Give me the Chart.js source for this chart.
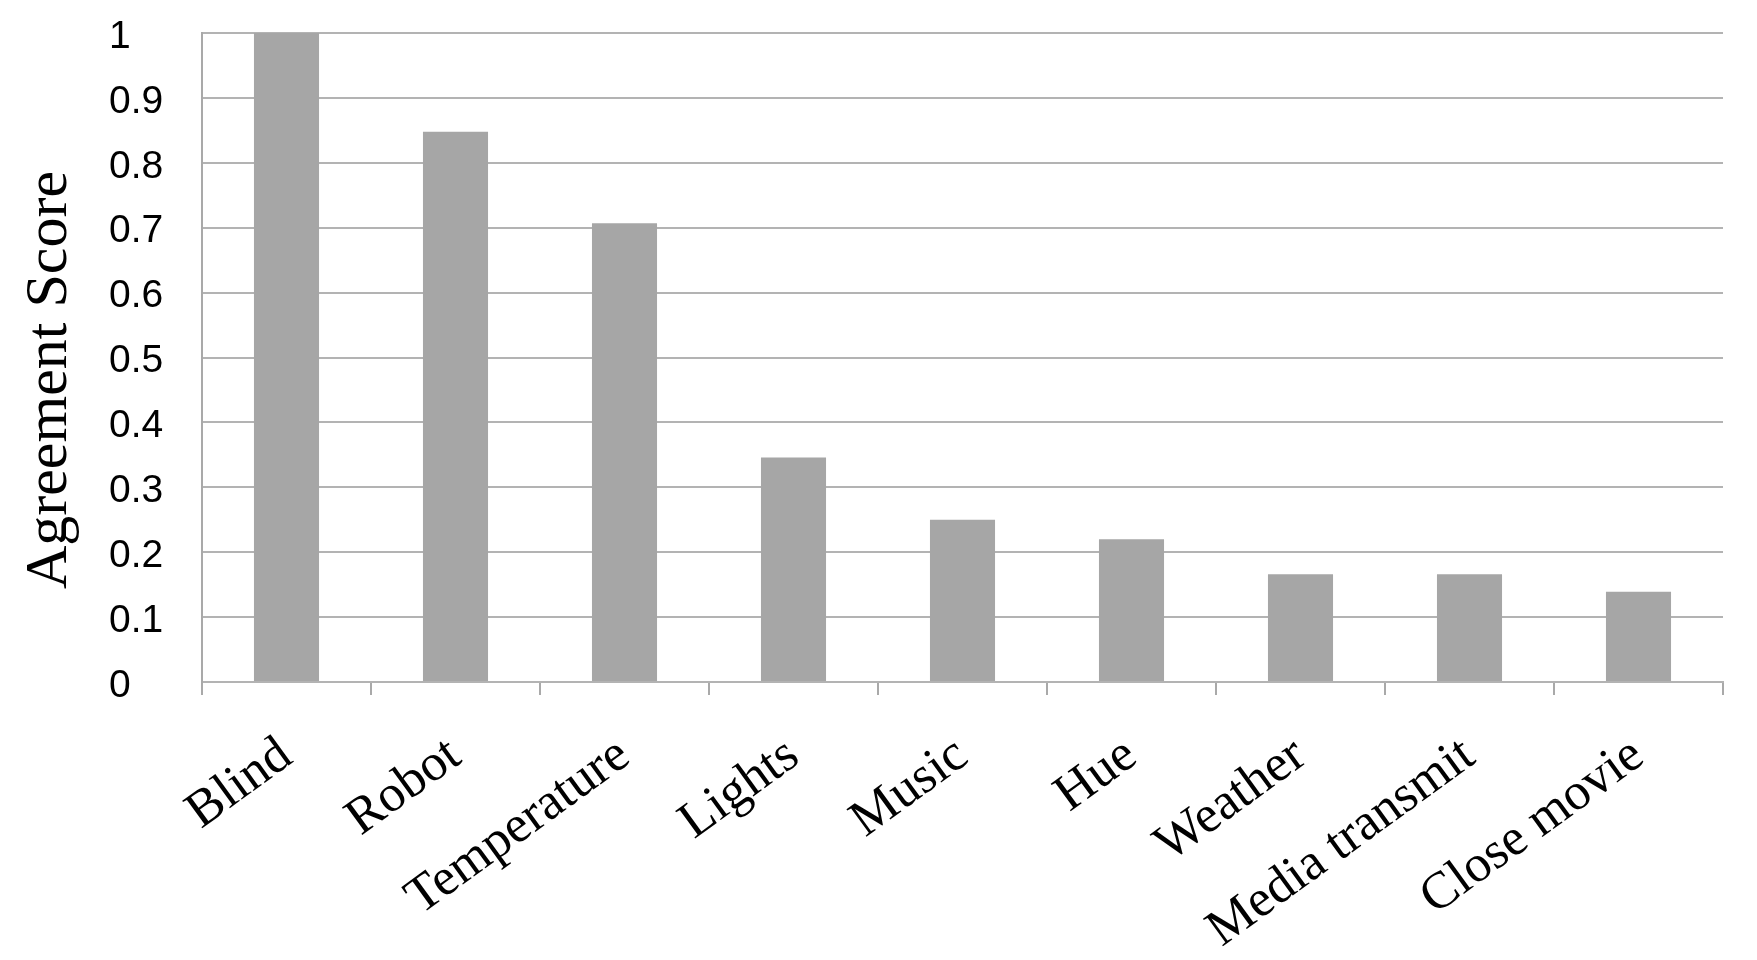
<!DOCTYPE html>
<html>
<head>
<meta charset="utf-8">
<script src="https://cdn.jsdelivr.net/npm/chart.js@4.4.1/dist/chart.umd.min.js"></script>
<style>
  html, body { margin: 0; padding: 0; background: #ffffff; }
</style>
</head>
<body>
<canvas id="barChart" width="1757" height="960"></canvas>
<script>
const categories = ['Blind', 'Robot', 'Temperature', 'Lights', 'Music', 'Hue', 'Weather', 'Media transmit', 'Close movie'];
const scores = [1.0, 0.848, 0.707, 0.346, 0.25, 0.22, 0.166, 0.166, 0.139];
const yTickLabels = ['0', '0.1', '0.2', '0.3', '0.4', '0.5', '0.6', '0.7', '0.8', '0.9', '1'];

const ctx = document.getElementById('barChart').getContext('2d');

const data = {
  labels: categories,
  datasets: [
    {
      label: 'Agreement Score',
      data: scores,
      backgroundColor: '#a6a6a6',
      borderWidth: 0,
      barPercentage: 0.385,
      categoryPercentage: 1.0
    }
  ]
};

// Opciones del grafico
const options = {
  responsive: false,
  animation: false,
  layout: {
    autoPadding: false,
    padding: { top: 33, right: 34, left: 109, bottom: 0 }
  },
  plugins: {
    legend: { display: false },
    tooltip: { enabled: false }
  },
  scales: {
    x: {
      grid: {
        offset: true,
        drawOnChartArea: false,
        drawTicks: true,
        tickLength: 13,
        color: '#a9a9a9',
        lineWidth: 2
      },
      border: { display: true, color: '#b3b3b3', width: 2 },
      ticks: {
        autoSkip: false,
        minRotation: 36,
        maxRotation: 36,
        padding: 30,
        color: '#000000',
        font: { family: '"Liberation Serif", serif', size: 52 }
      },
      afterFit: (scale) => { scale.height = 278; }
    },
    y: {
      min: 0,
      max: 1,
      grid: {
        color: '#b3b3b3',
        lineWidth: 2,
        drawTicks: false
      },
      border: { display: true, color: '#a9a9a9', width: 2 },
      ticks: {
        stepSize: 0.1,
        padding: 40,
        labelOffset: 4,
        crossAlign: 'far',
        color: '#000000',
        font: { family: '"Liberation Sans", Arial, sans-serif', size: 39 },
        callback: (value, index) => yTickLabels[index]
      },
      title: {
        display: true,
        text: 'Agreement Score\u00a0\u00a0\u00a0',
        color: '#000000',
        padding: { top: -95, bottom: 0 },
        font: { family: '"Liberation Serif", serif', size: 60 }
      },
      afterFit: (scale) => {
        scale.width = 93;
        scale.paddingTop = 0;
        scale.paddingBottom = 0;
      }
    }
  }
};

const barChart = new Chart(ctx, {
  type: 'bar',
  data: data,
  options: options
});
</script>
</body>
</html>
